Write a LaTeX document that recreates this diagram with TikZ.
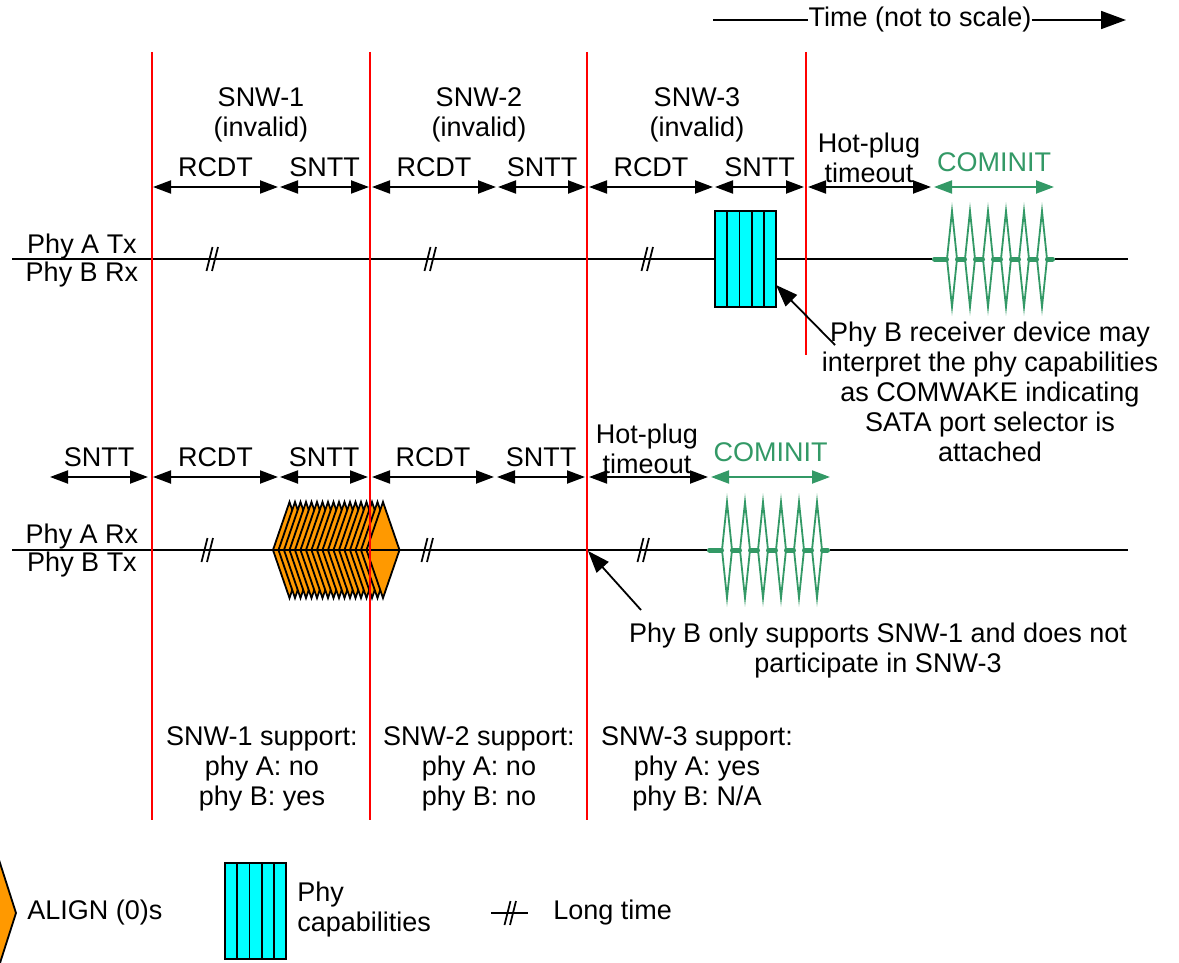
\documentclass[tikz,border=0pt]{standalone}
\usepackage{fontspec}
\setmainfont{Liberation Sans}
\usetikzlibrary{arrows.meta,positioning}
\definecolor{cominitgreen}{RGB}{51,153,102}
\definecolor{alignorange}{RGB}{255,153,0}
\definecolor{capcyan}{RGB}{0,255,255}
\tikzset{
  longtime/.pic={\draw[line width=0.9pt] (-5.5,12) -- (0.5,-12) (0,12) -- (6,-12);},
  phycap/.pic={\foreach \i in {0,...,4}
      \draw[fill=capcyan,line width=0.9pt] (\i*12.2,0) rectangle ++(12.2,96);},
  alignstack/.pic={\foreach \i in {0,...,17}
      \draw[fill=alignorange,line width=0.9pt,line join=miter]
        ({5.5*\i},0) -- ++(16.5,-48) -- ++(16.5,48) -- ++(-16.5,48) -- cycle;},
  cominit/.pic={
    \foreach \c in {20,38,...,110}
      \draw[cominitgreen,line width=0.9pt] (\c-5,0) -- (\c,-48) -- (\c+5,0) -- (\c,48) -- cycle;
    \foreach \a/\b in {2.5/14.5,25.5/32.5,43.5/50.5,61.5/68.5,79.5/86.5,97.5/104.5,115.5/120.5}
      \draw[cominitgreen,line width=2.5pt,line cap=round] (\a,0) -- (\b,0);}
}
\begin{document}
\begin{tikzpicture}[x=0.5pt,y=-0.5pt,
    font=\fontsize{13.5}{15}\selectfont,
    redline/.style={red,line width=0.9pt},
    sigline/.style={line width=0.9pt},
    span/.style={line width=1pt,{Triangle[length=9pt,width=6.5pt]}-{Triangle[length=9pt,width=6.5pt]}},
    gspan/.style={span,cominitgreen},
    spanlbl/.style={midway,above=4.5pt,inner sep=0pt},
    gspanlbl/.style={midway,above=7pt,inner sep=0pt,text=cominitgreen},
    lbl/.style={inner sep=0pt,align=center},
    pointer/.style={line width=0.9pt,-{Triangle[length=11pt,width=8pt]}}]
\useasboundingbox (0,0) rectangle (1179,963);
\clip (0,0) rectangle (1179,963);

% time axis
\node[lbl] (time) at (920,20) {Time (not to scale)};
\coordinate (tstart) at (713,20);
\coordinate (tend) at (1126,20);
\draw[line width=0.9pt] (tstart) -- (time.west);
\draw[line width=0.9pt,-{Triangle[length=12.5pt,width=9pt]}] (time.east) -- (tend);

% window titles
\node[lbl] (snw1) at (261,115) {SNW-1\\(invalid)};
\node[lbl] (snw2) at (479,115) {SNW-2\\(invalid)};
\node[lbl] (snw3) at (697,115) {SNW-3\\(invalid)};

% upper row spans
\foreach \n/\x in {1/153,2/278,3/280,4/369,5/372,6/496,7/498,8/586,9/589,10/713,11/715,12/804,13/808,14/931,15/934,16/1054}
  \coordinate (u\n) at (\x,187);
\draw[span] (u1) -- node[spanlbl] {RCDT} (u2);
\draw[span] (u3) -- node[spanlbl] {SNTT} (u4);
\draw[span] (u5) -- node[spanlbl] {RCDT} (u6);
\draw[span] (u7) -- node[spanlbl] {SNTT} (u8);
\draw[span] (u9) -- node[spanlbl] {RCDT} (u10);
\draw[span] (u11) -- node[spanlbl] {SNTT} (u12);
\draw[span] (u13) -- (u14);
\node[lbl] (hpu) at (869,158) {Hot-plug\\timeout};
\draw[gspan] (u15) -- node[gspanlbl] {COMINIT} (u16);

% upper signal: Phy A Tx / Phy B Rx
\node[lbl] (atx) at (82,247) {Phy A Tx};
\node[lbl] (brx) at (82,275) {Phy B Rx};
\draw[sigline] (12,259) -- (932,259) (1055,259) -- (1128,259);
\foreach \x in {212,430,647} \pic at (\x,259) {longtime};
\pic at (715,211) {phycap};
\pic at (932,259) {cominit};

% lower row spans
\foreach \n/\x in {1/50,2/148,3/153,4/278,5/280,6/368,7/372,8/494,9/497,10/585,11/589,12/708,13/711,14/830}
  \coordinate (l\n) at (\x,477);
\draw[span] (l1) -- node[spanlbl] {SNTT} (l2);
\draw[span] (l3) -- node[spanlbl] {RCDT} (l4);
\draw[span] (l5) -- node[spanlbl] {SNTT} (l6);
\draw[span] (l7) -- node[spanlbl] {RCDT} (l8);
\draw[span] (l9) -- node[spanlbl] {SNTT} (l10);
\draw[span] (l11) -- (l12);
\node[lbl] (hpl) at (647,449) {Hot-plug\\timeout};
\draw[gspan] (l13) -- node[gspanlbl] {COMINIT} (l14);

% lower signal: Phy A Rx / Phy B Tx
\node[lbl] (arx) at (82,537) {Phy A Rx};
\node[lbl] (btx) at (82,565) {Phy B Tx};
\draw[sigline] (12,550) -- (707,550) (830,550) -- (1128,550);
\foreach \x in {207,427,643} \pic at (\x,550) {longtime};
\pic at (273,550) {alignstack};
\draw[sigline] (273,550) -- (400,550);
\pic at (707,550) {cominit};

% window boundaries
\foreach \x in {152,370,587} \draw[redline] (\x,52) -- (\x,820);
\draw[redline] (806,52) -- (806,355);

% notes
\node[lbl] (noteu) at (990,392) {Phy B receiver device may\\interpret the phy capabilities\\as COMWAKE indicating\\SATA port selector is\\attached};
\coordinate (capedge) at (776,285);
\coordinate (noteutail) at (835,345);
\draw[pointer] (noteutail) -- (capedge);
\node[lbl] (notel) at (878,651) {Phy B only supports SNW-1 and does not\\participate in SNW-3};
\coordinate (snw3start) at (588,551);
\coordinate (notelTail) at (641,610);
\draw[pointer] (notelTail) -- (snw3start);

% support summary
\node[lbl] (sup1) at (262,769) {SNW-1 support:\\phy A: no\\phy B: yes};
\node[lbl] (sup2) at (479,769) {SNW-2 support:\\phy A: no\\phy B: no};
\node[lbl] (sup3) at (697,769) {SNW-3 support:\\phy A: yes\\phy B: N/A};

% legend
\draw[fill=alignorange,line width=0.9pt] (-16,913) -- (0,863) -- (16,913) -- (0,963) -- cycle;
\node[lbl,anchor=west] (legalign) at (27,913) {ALIGN (0)s};
\pic at (225,863) {phycap};
\node[lbl,anchor=west,align=left] (legcap) at (297,910) {Phy\\capabilities};
\draw[sigline] (491,913) -- (528,913);
\pic at (510,913) {longtime};
\node[lbl,anchor=west] (leglong) at (553,913) {Long time};
\end{tikzpicture}
\end{document}
